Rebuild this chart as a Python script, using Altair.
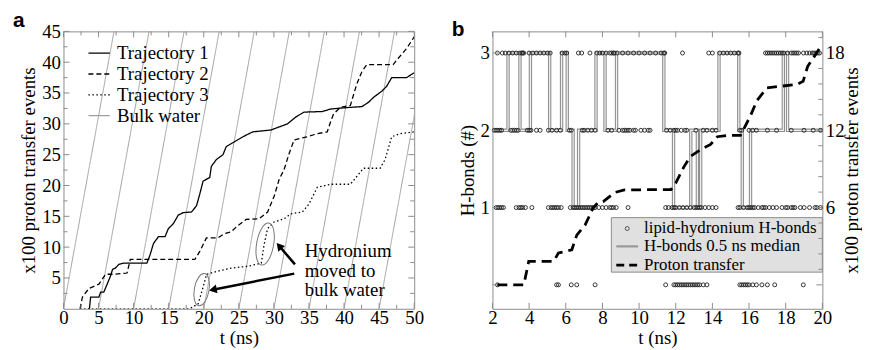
import altair as alt
import pandas as pd

# ======================= Panel a data =======================
series_a = ["Trajectory 1", "Trajectory 2", "Trajectory 3", "Bulk water"]

t1_t = [3.5, 3.7, 3.87, 5.05, 5.3, 5.75, 6.23, 6.7, 7.0, 7.4, 7.88, 8.58, 11.89, 12.36, 12.83,
        13.54, 14.48, 14.95, 15.66, 16.37, 17.08, 18.25, 18.96, 19.43, 19.9, 20.85, 21.08, 21.79,
        22.74, 23.2, 24.39, 25.57, 26.98, 29.58, 30.75, 31.93, 33.11, 34.29, 36.89, 38.07, 39.95,
        42.55, 43.49, 44.2, 45.38, 46.08, 46.79, 48.92, 50.0]
t1_v = [0, 0, 1.9, 1.9, 2.7, 2.7, 4.0, 5.3, 6.4, 6.6, 7.2, 7.4, 7.4, 8.8, 10.6,
        11.7, 11.7, 13.0, 13.8, 15.2, 15.6, 15.7, 16.7, 18.6, 20.7, 21.3, 23.1, 24.2,
        25.0, 26.3, 27.1, 27.9, 28.7, 29.0, 29.5, 30.0, 31.1, 31.9, 32.0, 32.4, 32.6,
        32.8, 33.5, 34.3, 35.3, 36.1, 37.5, 37.5, 38.3]

t2_t = [2.36, 2.7, 3.63, 5.05, 6.0, 7.17, 8.2, 9.06, 9.53, 18.73, 19.43, 20.38, 22.0, 22.97,
        23.9, 24.86, 26.04, 27.9, 29.1, 30.05, 30.75, 31.46, 32.17, 32.88, 34.76, 36.18, 37.6,
        38.07, 38.5, 39.5, 40.9, 41.8, 42.55, 43.25, 47.0, 47.7, 48.9, 50.0]
t2_v = [0, 1.9, 3.3, 4.0, 5.6, 5.6, 5.7, 5.8, 8.0, 8.0, 9.3, 11.5, 11.5, 12.2,
        12.5, 13.5, 14.5, 14.6, 15.7, 18.3, 21.0, 22.6, 25.2, 27.4, 27.9, 28.4, 28.7,
        30.3, 31.6, 32.7, 33.0, 36.4, 38.5, 39.6, 39.6, 40.6, 42.2, 44.1]

t3_t = [2.36, 18.0, 19.2, 19.9, 20.4, 22.0, 23.9, 26.3, 28.2, 28.6, 29.1, 30.05, 31.46, 32.4,
        34.06, 35.0, 36.18, 38.07, 40.9, 41.84, 42.78, 45.14, 45.85, 46.79, 47.97, 50.0]
t3_v = [0, 0, 0.8, 3.5, 5.6, 6.1, 6.6, 6.9, 7.4, 10.4, 13.0, 14.1, 14.6, 15.4,
        15.7, 17.0, 19.7, 20.2, 20.2, 21.5, 22.8, 22.8, 24.2, 27.9, 28.4, 28.7]

bulk_start = [0, 5, 10, 15, 20, 25, 30, 35, 40, 45]
bulk_end = [7.2, 12.2, 17.2, 22.2, 27.2, 32.2, 37.2, 42.2, 47.2, 52.2]
bulk_low, bulk_high = 0, 45

a_x_major = [0, 5, 10, 15, 20, 25, 30, 35, 40, 45, 50]
a_x_minor = [2.5, 7.5, 12.5, 17.5, 22.5, 27.5, 32.5, 37.5, 42.5, 47.5]
a_y_major = [5, 10, 15, 20, 25, 30, 35, 40, 45]
a_y_minor = [2.5, 7.5, 12.5, 17.5, 22.5, 27.5, 32.5, 37.5, 42.5]

annot_lines = ["Hydronium", "moved to", "bulk water"]
annot_t, annot_v = [34.4], [9.4]
ell_t = [19.7, 28.75]
ell_v = [3.1, 10.5]
arrow_t0 = [32.9, 33.0]
arrow_v0 = [5.7, 7.2]
arrow_t1 = [21.3, 30.75]
arrow_v1 = [3.1, 10.2]
arrow_angle = [259, 320]

# ======================= Panel b data =======================
hb3_t = [2.27, 2.54, 2.7, 2.9, 3.1, 3.3, 3.5, 3.6, 3.65, 3.71, 4.0, 4.2, 4.4, 4.6, 4.8, 5.0, 5.15,
         5.8, 5.95, 6.05, 6.69, 6.87, 7.32, 7.7, 7.85, 8.0, 8.2, 8.4, 8.5, 8.6, 8.65, 8.8, 9.1, 9.4,
         9.7, 10.0, 10.3, 10.6, 10.9, 11.2, 11.35, 11.4, 12.37, 13.8, 14.0, 14.4, 14.6, 14.8, 15.0,
         15.2, 15.4, 15.45, 16.9, 17.0, 17.1, 17.2, 17.3, 17.4, 17.5, 17.6, 17.7, 17.8, 17.9, 18.1,
         18.3, 18.4, 18.5, 18.6, 18.7, 18.97, 19.15, 19.3, 19.45, 19.55, 19.65, 19.75, 19.85]
hb2_t = [2.1, 2.2, 2.3, 2.4, 2.5, 3.0, 3.1, 3.2, 3.3, 3.4, 3.9, 4.0, 4.1, 4.4, 4.6, 5.05, 5.25,
         5.5, 5.7, 6.2, 6.3, 6.9, 7.0, 7.2, 7.4, 7.6, 8.3, 8.5, 8.9, 9.1, 9.2, 9.3, 9.4, 9.5, 9.7,
         9.8, 10.1, 10.3, 10.5, 10.6, 11.5, 11.7, 11.9, 12.0, 12.1, 12.3, 12.5, 12.6, 13.1, 13.5,
         13.7, 14.0, 14.2, 15.5, 15.6, 16.0, 16.2, 16.4, 17.0, 17.5, 18.3, 19.0, 19.5, 19.9]
hb1_t = [2.2, 2.3, 2.4, 2.5, 2.6, 3.3, 3.45, 3.55, 3.65, 3.8, 4.15, 5.05, 5.2, 5.3, 5.4, 5.5, 5.6,
         5.75, 6.25, 6.4, 6.5, 6.6, 6.7, 6.8, 6.9, 7.0, 7.1, 7.2, 7.3, 7.4, 7.5, 7.6, 7.8, 8.0, 8.2,
         8.4, 8.5, 8.6, 8.75, 9.4, 11.45, 11.6, 11.8, 11.9, 12.0, 12.2, 12.4, 12.6, 12.8, 13.0,
         13.1, 13.2, 13.3, 13.4, 13.6, 13.8, 14.0, 14.2, 15.4, 15.5, 15.7, 15.9, 16.0, 16.1, 16.2,
         16.3, 16.5, 16.7, 16.8, 16.9, 17.1, 17.3, 17.5, 17.8, 18.0, 18.1, 18.3, 18.4, 18.5, 18.8,
         19.0, 19.3, 19.6, 19.7, 19.9]
hb0_t = [2.27, 5.5, 5.6, 6.3, 6.6, 7.6, 11.45, 11.9, 12.0, 12.1, 12.2, 12.3, 12.4, 12.5, 12.6,
         12.7, 12.8, 12.9, 13.0, 13.1, 13.2, 13.3, 13.5, 13.7, 15.5, 15.6, 15.7, 15.8, 15.9, 16.0,
         16.2, 16.4, 16.7, 17.0, 17.4, 18.96]

med_t = [2.1, 2.85, 3.5, 4.07, 5.12, 5.77, 6.08, 6.4, 6.7, 7.65, 8.14, 8.77, 11.35, 11.88,
         12.82, 13.18, 13.36, 14.36, 15.44, 15.63, 16.08, 17.87, 18.1, 20.0]
med_v = [2, 3, 2, 3, 2, 3, 2, 1, 2, 3, 2, 3, 2, 1, 2, 1, 2, 3, 2, 1, 2, 3, 2, 2]

pt_t = [2.27, 3.71, 3.98, 5.34, 5.6, 6.33, 6.6, 7.05, 7.5, 7.77, 8.04, 8.67, 9.2, 11.74, 12.0,
        12.46, 12.8, 13.36, 13.9, 14.27, 14.8, 15.53, 16.07, 16.43, 16.97, 18.6, 18.95, 19.2,
        19.67, 20.0]
pt_v = [0, 0, 1.83, 1.83, 2.47, 2.72, 3.86, 4.63, 6.0, 6.4, 6.46, 7.17, 7.37, 7.4, 7.9,
        9.2, 9.97, 10.5, 10.9, 11.5, 11.6, 11.6, 13.1, 14.3, 15.3, 15.56, 15.8, 16.97,
        17.97, 18.7]

legend_b = ["lipid-hydronium H-bonds", "H-bonds 0.5 ns median", "Proton transfer"]
b_x_major = [2, 4, 6, 8, 10, 12, 14, 16, 18, 20]
b_y_labels = [1, 2, 3]
b_y_ticks = [0, 1, 2, 3]
b_r_labels = [6, 12, 18]
b_r_minor = [1.2, 2.4, 3.6, 4.8, 7.2, 8.4, 9.6, 10.8, 13.2, 14.4, 15.6, 16.8, 19.2]

# ======================= build tables =======================
traj = pd.concat([
    pd.DataFrame({"t": t1_t, "v": t1_v, "series": series_a[0]}),
    pd.DataFrame({"t": t2_t, "v": t2_v, "series": series_a[1]}),
    pd.DataFrame({"t": t3_t, "v": t3_v, "series": series_a[2]}),
])
bulk_rows = []
for i, (s, e) in enumerate(zip(bulk_start, bulk_end)):
    bulk_rows.append({"t": s, "v": bulk_low, "line": i, "series": series_a[3]})
    bulk_rows.append({"t": e, "v": bulk_high, "line": i, "series": series_a[3]})
bulk = pd.DataFrame(bulk_rows)
one = pd.DataFrame({"k": [0]})

SERIF = "Liberation Serif"
W_A, H_A = 354, 280
W_B, H_B = 333, 280
TICK_COL = "#8c8c8c"

COMMON = dict(labelOverlap=False, labelBound=False, labelSeparation=0, ticks=False,
              domain=False, grid=False, labelFont=SERIF, labelFontSize=19, titleFont=SERIF,
              titleFontSize=19, titleFontWeight="normal", labelColor="black",
              titleColor="black")
X_AXIS = dict(labelFlush=False, labelPadding=0, titlePadding=1, **COMMON)
Y_AXIS = dict(labelPadding=3, titlePadding=3, **COMMON)

xa = alt.Scale(domain=[0, 50], nice=False)
ya = alt.Scale(domain=[0, 45], nice=False)
ax_xa = alt.Axis(values=a_x_major, title="t (ns)", **X_AXIS)
ax_ya = alt.Axis(values=a_y_major, title="x100 proton transfer events", **Y_AXIS)


def XA(f="t"):
    return alt.X(f"{f}:Q", scale=xa, axis=ax_xa, title="t (ns)")


def YA(f="v"):
    return alt.Y(f"{f}:Q", scale=ya, axis=ax_ya, title="x100 proton transfer events")


color_a = alt.Scale(domain=series_a, range=["black", "black", "black", "#a0a0a0"])
dash_a = alt.Scale(domain=series_a, range=[[1, 0], [5, 3], [1.5, 2.5], [1, 0]])
leg_a = alt.Legend(orient="none", legendX=26, legendY=12, title=None,
                   symbolType="M-1.2,0L1.2,0", symbolSize=324, symbolStrokeWidth=1.3,
                   labelFont=SERIF, labelFontSize=19, labelOffset=8, rowPadding=1,
                   padding=0, labelColor="black")

bulk_layer = alt.Chart(bulk).mark_line(clip=True, strokeWidth=1).encode(
    x=XA(), y=YA(),
    detail="line:N",
    color=alt.Color("series:N", scale=color_a, legend=leg_a),
    strokeDash=alt.StrokeDash("series:N", scale=dash_a, legend=leg_a),
)
traj_layer = alt.Chart(traj).mark_line(clip=True, strokeWidth=1.3).encode(
    x=XA(), y=YA(),
    detail="series:N",
    color=alt.Color("series:N", scale=color_a, legend=leg_a),
    strokeDash=alt.StrokeDash("series:N", scale=dash_a, legend=leg_a),
)

ell_df = pd.DataFrame({"t": ell_t, "v": ell_v})
ell1 = alt.Chart(ell_df.iloc[[0]]).mark_point(
    shape="M0,-1A0.45,1,0,1,1,0,1A0.45,1,0,1,1,0,-1Z", size=1089, filled=False,
    color="#777", strokeWidth=1, angle=10, opacity=1).encode(x=XA(), y=YA())
ell2 = alt.Chart(ell_df.iloc[[1]]).mark_point(
    shape="M0,-1A0.4,1,0,1,1,0,1A0.4,1,0,1,1,0,-1Z", size=1849, filled=False,
    color="#777", strokeWidth=1, angle=10, opacity=1).encode(x=XA(), y=YA())

arr_df = pd.DataFrame({"t": arrow_t0, "v": arrow_v0, "t1": arrow_t1, "v1": arrow_v1,
                       "ang": arrow_angle})
arrows = alt.Chart(arr_df).mark_rule(color="black", strokeWidth=2.5).encode(
    x=XA(), y=YA(), x2="t1:Q", y2="v1:Q")
head_df = pd.DataFrame({"t": arrow_t1, "v": arrow_v1, "ang": arrow_angle})
heads = alt.Chart(head_df).mark_point(shape="triangle-up", filled=True, color="black",
                                      size=80, opacity=1).encode(
    x=XA(), y=YA(), angle=alt.Angle("ang:Q", scale=None))

annot_df = pd.DataFrame({"t": annot_t, "v": annot_v})
annot = alt.Chart(annot_df).mark_text(align="left", baseline="middle", font=SERIF, fontSize=19,
                                      lineHeight=20, color="black").encode(
    x=XA(), y=YA(), text=alt.value(annot_lines))


def xticks(vals, X, h, length):
    df = pd.DataFrame({"t": vals})
    bot = alt.Chart(df).mark_rule(color=TICK_COL, strokeWidth=1).encode(
        x=X(), y=alt.value(h), y2=alt.value(h - length))
    top = alt.Chart(df).mark_rule(color=TICK_COL, strokeWidth=1).encode(
        x=X(), y=alt.value(0), y2=alt.value(length))
    return [bot, top]


def yticks(vals, Y, w, length, left=True, right=True):
    df = pd.DataFrame({"v": vals})
    out = []
    if left:
        out.append(alt.Chart(df).mark_rule(color=TICK_COL, strokeWidth=1).encode(
            y=Y(), x=alt.value(0), x2=alt.value(length)))
    if right:
        out.append(alt.Chart(df).mark_rule(color=TICK_COL, strokeWidth=1).encode(
            y=Y(), x=alt.value(w), x2=alt.value(w - length)))
    return out


ticks_a = (xticks(a_x_major, XA, H_A, 6) + xticks(a_x_minor, XA, H_A, 4)
           + yticks(a_y_major, YA, W_A, 6) + yticks(a_y_minor, YA, W_A, 4))

panel_a = alt.layer(bulk_layer, traj_layer, ell1, ell2, arrows, heads, annot, *ticks_a).properties(
    width=W_A, height=H_A,
    title=alt.Title("a", anchor="start", frame="group", dx=-51, offset=-9, fontSize=21,
                    font="Liberation Sans", fontWeight="bold", color="black"))

# ======================= Panel b =======================
xb = alt.Scale(domain=[2, 20], nice=False)
yb = alt.Scale(domain=[-0.31, 3.28], nice=False)
yr = alt.Scale(domain=[-1.86, 19.68], nice=False)
ax_xb = alt.Axis(values=b_x_major, title="t (ns)", **X_AXIS)
ax_yb = alt.Axis(values=b_y_labels, title="H-bonds (#)", format="d", **Y_AXIS)
ax_yr = alt.Axis(orient="right", values=b_r_labels, title="x100 proton transfer events",
                 titleAngle=270, titleBaseline="top", labelPadding=3, titlePadding=-2,
                 **COMMON)


def XB(f="t"):
    return alt.X(f"{f}:Q", scale=xb, axis=ax_xb, title="t (ns)")


def YB(f="v"):
    return alt.Y(f"{f}:Q", scale=yb, axis=ax_yb, title="H-bonds (#)")


def YR(f="v"):
    return alt.Y(f"{f}:Q", scale=yr, axis=ax_yr, title="x100 proton transfer events")


dots = pd.concat([
    pd.DataFrame({"t": hb3_t, "v": 3}),
    pd.DataFrame({"t": hb2_t, "v": 2}),
    pd.DataFrame({"t": hb1_t, "v": 1}),
    pd.DataFrame({"t": hb0_t, "v": 0}),
])
med = pd.DataFrame({"t": med_t, "v": med_v})
pt = pd.DataFrame({"t": pt_t, "v": pt_v})

med_outer = alt.Chart(med).mark_line(interpolate="step-after", color="#8f8f8f",
                                     strokeWidth=3.4).encode(x=XB(), y=YB())
med_inner = alt.Chart(med).mark_line(interpolate="step-after", color="#f2f2f2",
                                     strokeWidth=1.2).encode(x=XB(), y=YB())
dot_layer = alt.Chart(dots).mark_point(shape="circle", filled=False, size=16, color="#222",
                                       strokeWidth=0.9, opacity=1).encode(x=XB(), y=YB())

ticks_b = (xticks(b_x_major, XB, H_B, 6) + yticks(b_y_ticks, YB, W_B, 6))

LBX0, LBX1, LBY0, LBY1 = 120, 333, 188, 243
leg_box = alt.Chart(one).mark_rect(fill="#e0e0e0", stroke="#8c8c8c", strokeWidth=1).encode(
    x=alt.value(LBX0), x2=alt.value(LBX1), y=alt.value(LBY0), y2=alt.value(LBY1))
leg_dot = alt.Chart(one).mark_point(shape="circle", filled=False, size=16, color="#333",
                                    strokeWidth=0.8, opacity=1).encode(
    x=alt.value(136), y=alt.value(199))
leg_med = alt.Chart(one).mark_rule(color="#999", strokeWidth=2.2).encode(
    x=alt.value(125), x2=alt.value(147), y=alt.value(217))
leg_pt = alt.Chart(one).mark_rule(color="black", strokeWidth=2.8, strokeDash=[8, 5]).encode(
    x=alt.value(125), x2=alt.value(147), y=alt.value(236))
leg_txt = [
    alt.Chart(one).mark_text(align="left", baseline="middle", font=SERIF, fontSize=17,
                             color="black").encode(
        x=alt.value(153), y=alt.value(yy), text=alt.value(lbl))
    for lbl, yy in zip(legend_b, [199, 217, 236])
]

left_layer = alt.layer(med_outer, med_inner, dot_layer, *ticks_b, leg_box, leg_dot, leg_med,
                       leg_pt, *leg_txt)

pt_layer = alt.Chart(pt).mark_line(color="black", strokeWidth=2.8, strokeDash=[10, 6]).encode(
    x=XB(), y=YR())
r_minor = yticks(b_r_minor, YR, W_B, 4, left=False, right=True)
right_layer = alt.layer(pt_layer, *r_minor)

panel_b = alt.layer(left_layer, right_layer).resolve_scale(y="independent").properties(
    width=W_B, height=H_B,
    title=alt.Title("b", anchor="start", frame="group", dx=-41, offset=-9, fontSize=21,
                    font="Liberation Sans", fontWeight="bold", color="black"))

chart = alt.hconcat(panel_a, panel_b, spacing=27).configure(
    padding={"left": 4, "top": 0, "right": 0, "bottom": 0}
).configure_view(stroke="#8c8c8c", strokeWidth=1).configure_axis(
    labelFont=SERIF, labelFontSize=19, titleFont=SERIF, titleFontSize=19,
    titleFontWeight="normal", labelColor="black", titleColor="black",
    ticks=False, domain=False, grid=False, labelOverlap=False
)

chart.save("out.html", embed_options={"renderer": "svg", "actions": False})
